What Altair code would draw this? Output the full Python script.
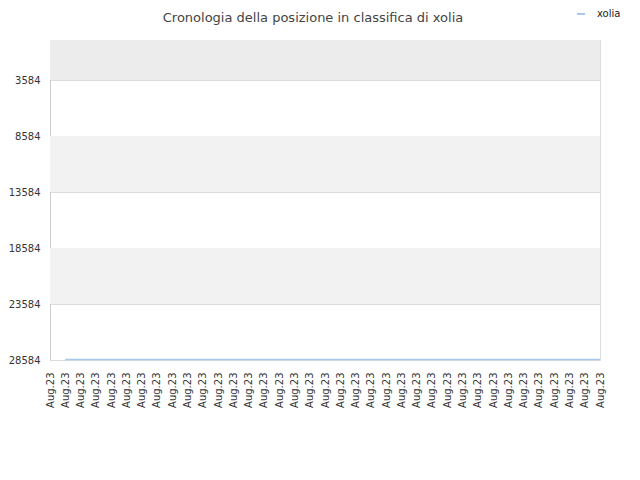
import altair as alt
import pandas as pd

# Data
x_index = list(range(37))
x_labels = ["Aug.23"] * 37
rank_values = [None] + [28530] * 36
series_name = "xolia"
y_ticks = [3584, 8584, 13584, 18584, 23584, 28584]
band_start = [1, 8584, 18584]
band_end = [3584, 13584, 23584]
band_color = ["#ececec", "#f2f2f2", "#f2f2f2"]

FONT = "DejaVu Sans"

df = pd.DataFrame({"idx": x_index, "label": x_labels, "rank": rank_values, "series": [series_name] * 37})
bands = pd.DataFrame({"y0": band_start, "y1": band_end, "c": band_color})

yscale = alt.Scale(domain=[1, 28584], reverse=True, nice=False, zero=False)
xscale = alt.Scale(domain=x_index, padding=0)

yaxis = alt.Axis(values=y_ticks, format="d", labelFontSize=10, labelColor="#333333",
                 labelFont=FONT, ticks=False, labelPadding=10,
                 domainColor="#cccccc", gridColor="#dddddd", grid=True)

band_layer = alt.Chart(bands).mark_rect().encode(
    x=alt.value(0), x2=alt.value(550),
    y=alt.Y("y0:Q", scale=yscale, title=None, axis=yaxis),
    y2="y1:Q",
    fill=alt.Fill("c:N", scale=None, legend=None),
)

line_layer = alt.Chart(df).mark_line(strokeWidth=1.5).encode(
    x=alt.X("idx:O", scale=xscale, sort=x_index, title=None,
            axis=alt.Axis(labelExpr="'Aug.23'", labelAngle=270, labelFontSize=10,
                          labelColor="#333333", labelFont=FONT, ticks=False,
                          labelPadding=12, domain=False, grid=False)),
    y=alt.Y("rank:Q", scale=yscale, title=None, axis=yaxis),
    color=alt.Color("series:N", scale=alt.Scale(domain=[series_name], range=["#a6c8ec"]),
                    legend=alt.Legend(title=None, orient="none", legendX=526, legendY=-31,
                                      symbolType="stroke", symbolSize=64, symbolStrokeWidth=2,
                                      labelOffset=11,
                                      labelFont=FONT, labelFontSize=10, labelColor="#222222")),
)

chart = alt.layer(band_layer, line_layer).properties(
    width=550, height=320,
    title=alt.TitleParams("Cronologia della posizione in classifica di xolia", font=FONT,
                          fontSize=13, fontWeight="normal", color="#444444",
                          anchor="middle", dx=-12, offset=-16),
    autosize=alt.AutoSizeParams(type="none"),
    padding={"left": 42, "top": 32, "right": 30, "bottom": 110},
).configure_view(stroke="#dddddd").configure(background="white")

chart.save("out.html", embed_options={"renderer": "svg", "actions": False})
